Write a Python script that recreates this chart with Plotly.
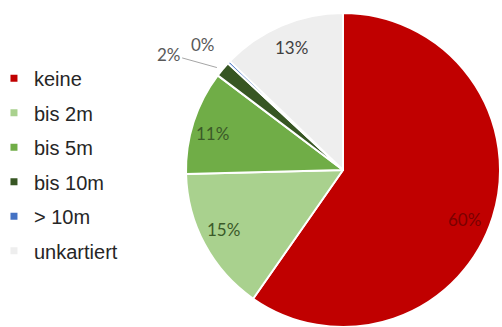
import numpy as np
import plotly.graph_objects as go

categories = ["keine", "bis 2m", "bis 5m", "bis 10m", "> 10m", "unkartiert"]
values = [59.7, 14.9, 10.7, 1.6, 0.3, 12.8]
colors = ["#C00000", "#A9D18E", "#70AD47", "#375623", "#4472C4", "#EEEEEE"]
label_colors = ["#7A0000", "#3B5A29", "#3B5A29", "#595959", "#595959", "#404040"]
# label placement style: radial fraction + pixel nudge for inside labels,
# pixel offsets for outside labels
label_style = [
    dict(r=0.83, ox=-3, oy=10),
    dict(r=0.85, ox=-2, oy=-4),
    dict(r=0.84, ox=-5, oy=4),
    dict(edge=True, ax=-54, ay=-15, line=True),
    dict(edge=True, ax=-26, ay=-18, line=False),
    dict(r=0.84, ox=0, oy=-1),
]

W, H = 502, 327
dom_x = [185 / W, 501 / W]
dom_y = [0, 314 / H]

fig = go.Figure()
fig.add_trace(go.Pie(
    labels=categories,
    values=values,
    sort=False,
    direction="clockwise",
    rotation=0,
    marker=dict(colors=colors, line=dict(color="white", width=2)),
    textinfo="none",
    showlegend=False,
    hoverinfo="label+percent",
    domain=dict(x=dom_x, y=dom_y),
))

# percentage labels, positioned from the pie geometry
cx_px = (dom_x[0] + dom_x[1]) / 2 * W
cy_px = H - (dom_y[0] + dom_y[1]) / 2 * H
R_px = min((dom_x[1] - dom_x[0]) * W, (dom_y[1] - dom_y[0]) * H) / 2
vals = np.array(values, dtype=float)
frac = vals / vals.sum()
mid = np.cumsum(frac) - frac / 2
for i, (f, m) in enumerate(zip(frac, mid)):
    ang = 2 * np.pi * m
    dx, dy = np.sin(ang), -np.cos(ang)
    st = label_style[i]
    txt = f"{round(f * 100):.0f}%"
    font = dict(family="Lato", size=17, color=label_colors[i])
    if st.get("edge"):
        px, py = cx_px + dx * R_px, cy_px + dy * R_px
        fig.add_annotation(
            x=px / W, y=1 - py / H, xref="paper", yref="paper",
            text=txt, font=font, showarrow=True, ax=st["ax"], ay=st["ay"],
            arrowhead=0, arrowwidth=1,
            arrowcolor="#A6A6A6" if st["line"] else "rgba(0,0,0,0)",
            standoff=6,
        )
    else:
        px = cx_px + dx * R_px * st["r"] + st["ox"]
        py = cy_px + dy * R_px * st["r"] + st["oy"]
        fig.add_annotation(
            x=px / W, y=1 - py / H, xref="paper", yref="paper",
            xanchor="center", yanchor="middle",
            text=txt, font=font, showarrow=False,
        )

# legend entries as separate groups so spacing can be controlled
for name, col in zip(categories, colors):
    fig.add_trace(go.Scatter(
        x=[None], y=[None], mode="markers", name=name, legendgroup=name,
        marker=dict(symbol="square", size=7, color=col),
        showlegend=True,
    ))

fig.update_layout(
    width=W, height=H,
    margin=dict(l=0, r=0, t=0, b=0, autoexpand=False),
    paper_bgcolor="white", plot_bgcolor="white",
    xaxis=dict(visible=False), yaxis=dict(visible=False),
    legend=dict(
        x=-0.012, y=0.82, xanchor="left", yanchor="top",
        font=dict(family="Liberation Sans", size=20, color="#262626"),
        tracegroupgap=5.5, itemwidth=30,
        bgcolor="rgba(0,0,0,0)",
    ),
)

fig.write_html("out.html")
